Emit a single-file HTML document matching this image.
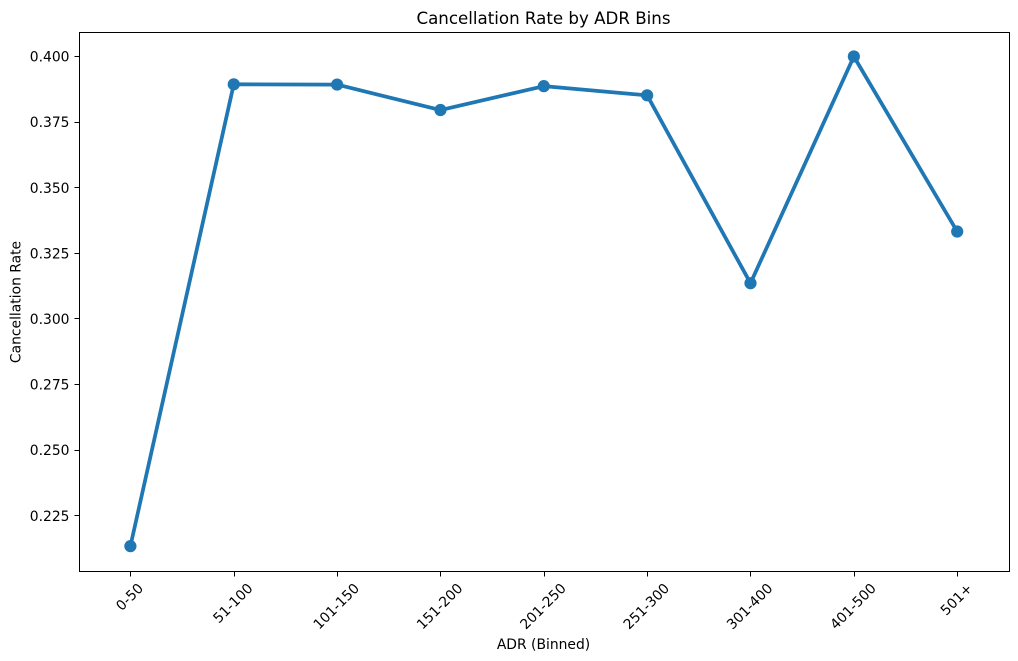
<!DOCTYPE html>
<html>
<head>
<meta charset="utf-8">
<style>
html,body{margin:0;padding:0;background:#fff;}
svg{display:block;font-family:"DejaVu Sans","Liberation Sans",sans-serif;}
</style>
</head>
<body>
<svg id="chart" width="1018" height="661" viewBox="0 0 1018 661" xmlns="http://www.w3.org/2000/svg"></svg>
<script>
const categories = ["0-50","51-100","101-150","151-200","201-250","251-300","301-400","401-500","501+"];
const seriesValues = [0.2134,0.3894,0.3893,0.3796,0.3887,0.3852,0.3136,0.4000,0.3333];
const yTickLabels = ["0.225","0.250","0.275","0.300","0.325","0.350","0.375","0.400"];

const svgNS = "http://www.w3.org/2000/svg";
const svg = document.getElementById("chart");
const plot = {left:79.5, right:1009.5, top:32.5, bottom:571.5};
const tickFont = 13.89;
const titleFont = 16.67;
const markOffsetX = -0.3;

function xScale(i){ return 130.7 + i * (957.5 - 130.7) / (categories.length - 1); }
function yScale(v){ return 515.7 + (v - 0.225) * (56.5 - 515.7) / (0.400 - 0.225); }
function snap(p){ return Math.floor(p) + 0.5; }

function make(tag, attrs, text){
  const el = document.createElementNS(svgNS, tag);
  for (const k in attrs) el.setAttribute(k, attrs[k]);
  if (text !== undefined) el.textContent = text;
  svg.appendChild(el);
  return el;
}

const bg = make("rect",{x:0,y:0,width:1018,height:661,fill:"#fff"});



// series line
const pts = seriesValues.map((v,i)=>(xScale(i)+markOffsetX).toFixed(2)+","+yScale(v).toFixed(2)).join(" ");
const line = make("polyline",{points:pts,fill:"none",stroke:"#1f77b4","stroke-width":3.75,"stroke-linejoin":"round","stroke-linecap":"round"});



// points
seriesValues.forEach((v,i)=>{
  const c = make("circle",{cx:xScale(i)+markOffsetX,cy:yScale(v),r:6.1,fill:"#1f77b4"});
  
  
});

// frame
const frame = make("rect",{x:plot.left,y:plot.top,width:plot.right-plot.left,height:plot.bottom-plot.top,fill:"none",stroke:"#000","stroke-width":1});



// x ticks: rotated labels are centred on the tick, with their bounding box hung below the axis
categories.forEach((c,i)=>{
  const x = xScale(i);
  const tx = snap(x);
  const t = make("line",{x1:tx,x2:tx,y1:plot.bottom,y2:plot.bottom+5,stroke:"#000","stroke-width":1});
  
  
  const lbl = make("text",{x:0,y:4,"font-size":tickFont,fill:"#000","text-anchor":"middle"},c);
  
  
  const w = lbl.getComputedTextLength();
  const extent = (w + 14) * Math.SQRT1_2;
  lbl.setAttribute("transform","translate("+(x-0.6)+" "+(581.4+extent/2)+") rotate(-45)");
});

// y ticks
yTickLabels.forEach(s=>{
  const y = yScale(parseFloat(s));
  const ty = snap(y);
  const t = make("line",{x1:plot.left-5,x2:plot.left,y1:ty,y2:ty,stroke:"#000","stroke-width":1});
  
  
  const lbl = make("text",{x:plot.left-10,y:y+5.1,"font-size":tickFont,fill:"#000","text-anchor":"end"},s);
  
  
});

const title = make("text",{x:543.5,y:24,"font-size":titleFont,fill:"#000","text-anchor":"middle"},"Cancellation Rate by ADR Bins");



const xTitle = make("text",{x:543.5,y:649,"font-size":tickFont,fill:"#000","text-anchor":"middle"},"ADR (Binned)");



const yTitle = make("text",{x:20.5,y:302,"font-size":tickFont,fill:"#000","text-anchor":"middle",transform:"rotate(-90 20.5 302)"},"Cancellation Rate");


</script>
</body>
</html>
